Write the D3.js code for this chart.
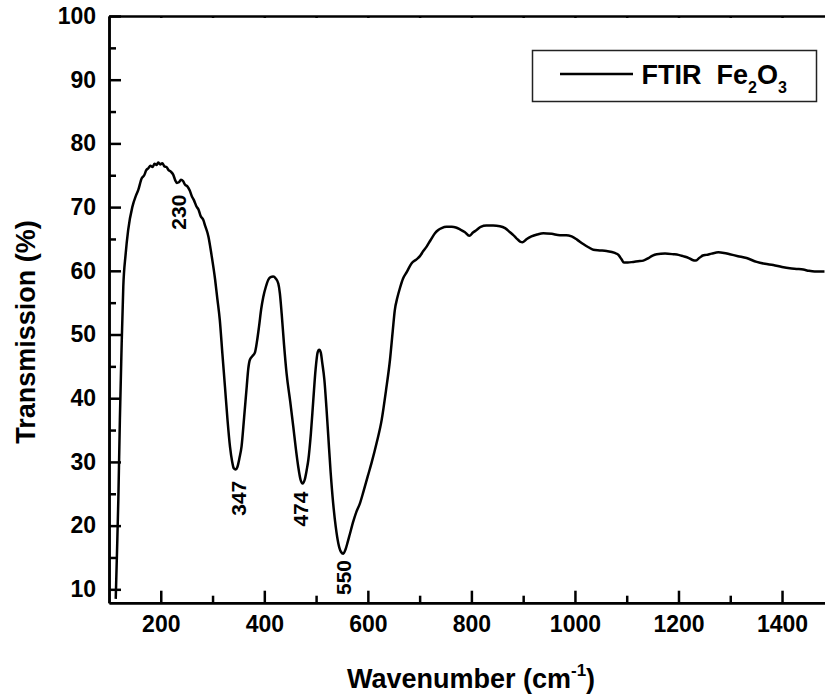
<!DOCTYPE html>
<html>
<head>
<meta charset="utf-8">
<title>FTIR Fe2O3</title>
<script src="https://cdn.jsdelivr.net/npm/d3@7"></script>
<style>
  html, body { margin: 0; padding: 0; background: #fff; }
  #chart { width: 825px; height: 696px; }
  text { font-family: Arial, "Liberation Sans", sans-serif; font-weight: bold; fill: #000; }
</style>
</head>
<body>
<div id="chart"></div>
<script>
// FTIR spectrum of Fe2O3
const wavenumber = [
  113, 115.5, 118, 121, 124, 127.6, 132, 137, 145, 152, 156.6, 163, 168, 172, 176, 180, 184, 188, 192, 195,
  199, 203, 207, 211, 215, 219, 224, 228, 231, 235, 239, 243, 247, 251, 256, 260, 264, 269, 273, 277,
  282, 286, 292, 298, 305, 309, 314, 319, 324, 329, 333.7, 338, 341, 344.6, 348, 352, 356, 361, 366, 369,
  372, 377, 382, 386, 389.7, 394, 398, 403, 407.7, 412, 417, 422, 427, 430, 433.5, 438, 443, 450, 456, 461,
  465.6, 470, 474, 478, 482, 485, 490, 494.6, 499, 503, 506, 509, 512, 516, 520, 523.6, 528, 533, 538, 543,
  548, 552.5, 557, 561, 565, 572, 578, 584.7, 592, 600, 607, 617, 626.7, 635, 642.7, 648, 652, 657, 662, 668,
  675, 684.6, 694, 700.6, 707, 713.5, 721, 729.6, 736, 742.5, 752, 762, 770, 778, 787, 796, 803, 810, 818, 829,
  842, 855, 865, 874, 881, 887, 894, 899, 907, 916, 927, 939, 955, 971, 983, 993.6, 1004, 1016, 1026, 1035.5,
  1048, 1061, 1077, 1084, 1090, 1094.6, 1102, 1112.6, 1122, 1132, 1142, 1150, 1158, 1174, 1190, 1200, 1209, 1220, 1227, 1233,
  1240, 1247, 1254, 1264, 1277, 1288, 1299, 1315, 1331.5, 1351, 1367, 1383, 1400, 1415, 1428, 1441, 1452, 1463, 1482
];
const transmission = [
  8.5, 16, 24, 36.6, 47, 57.5, 62.5, 66.4, 70, 71.8, 72.7, 74.5, 75, 75.8, 76.1, 76.5, 76.3, 76.8, 76.6, 77,
  76.7, 76.9, 76.4, 76.3, 75.8, 75.6, 75.1, 74.2, 73.8, 73.9, 74.3, 74.1, 73.5, 73.3, 72.6, 71.7, 71.1, 70.1, 69.6, 68.6,
  68, 67, 65.4, 62.5, 58.6, 55.8, 52.3, 47, 41.8, 36.5, 32.4, 30, 29, 28.8, 29.2, 30.6, 32.4, 37, 41.8, 44.6,
  46, 46.6, 47.2, 49, 51.2, 54, 55.9, 57.5, 58.6, 59, 59.1, 58.8, 58, 56.5, 53.3, 48.5, 43.9, 39.5, 35.5, 32,
  29.2, 27.2, 26.6, 27.2, 28.8, 30.3, 34.5, 39.7, 44.5, 47.2, 47.6, 47.2, 45.5, 42.9, 38.5, 34, 28.5, 23.5, 19.8, 17.2,
  15.9, 15.6, 16.3, 17.4, 18.6, 20.7, 22.2, 23.5, 25.5, 27.8, 29.8, 33, 36.6, 41.2, 46, 50.5, 53.8, 55.8, 57.3, 58.8,
  59.8, 61.2, 61.8, 62.3, 63.1, 63.8, 64.8, 65.9, 66.4, 66.7, 66.9, 66.9, 66.8, 66.5, 66.1, 65.5, 66, 66.4, 66.9, 67.1,
  67.1, 67, 66.7, 66.1, 65.6, 65.1, 64.6, 64.5, 65, 65.4, 65.7, 65.9, 65.8, 65.6, 65.6, 65.4, 64.9, 64.2, 63.7, 63.3,
  63.2, 63.1, 62.8, 62.5, 61.8, 61.3, 61.3, 61.4, 61.5, 61.6, 62, 62.4, 62.6, 62.7, 62.6, 62.5, 62.3, 62, 61.7, 61.6,
  62, 62.4, 62.5, 62.7, 62.9, 62.8, 62.6, 62.3, 62, 61.4, 61.1, 60.9, 60.6, 60.4, 60.3, 60.2, 60, 59.9, 59.9
];

// peak annotations (text, position in data units)
const peakLabels = ["230", "347", "474", "550"];
const peakLabelX = [235, 350, 470, 553];
const peakLabelY = [69.2, 24.3, 22.6, 11.85];

// axis ticks
const xMajorTicks = [200, 400, 600, 800, 1000, 1200, 1400];
const xMinorTicks = [300, 500, 700, 900, 1100, 1300];
const yMajorTicks = [10, 20, 30, 40, 50, 60, 70, 80, 90, 100];
const yMinorTicks = [15, 25, 35, 45, 55, 65, 75, 85, 95];

document.addEventListener('DOMContentLoaded', function() {
  const width = 825;
  const height = 696;
  const plot = { left: 109, right: 825, top: 16, bottom: 602.7 };

  const svg = d3.select('#chart')
    .append('svg')
    .attr('width', width)
    .attr('height', height);

  const x = d3.scaleLinear().domain([100, 1483]).range([plot.left, plot.right]);
  const y = d3.scaleLinear().domain([7.9, 100]).range([plot.bottom, plot.top]);

  // clip the spectrum to the frame
  svg.append('clipPath').attr('id', 'plot-clip')
    .append('rect')
    .attr('x', plot.left).attr('y', plot.top)
    .attr('width', plot.right - plot.left).attr('height', plot.bottom - plot.top);

  const points = wavenumber.map((w, i) => [w, transmission[i]]);
  const line = d3.line()
    .x(d => x(d[0]))
    .y(d => y(d[1]))
    .curve(d3.curveMonotoneX);

  svg.append('path')
    .datum(points)
    .attr('clip-path', 'url(#plot-clip)')
    .attr('d', line)
    .attr('fill', 'none')
    .attr('stroke', '#000')
    .attr('stroke-width', 2.5)
    .attr('stroke-linejoin', 'round');

  // bottom axis, ticks pointing inwards
  const xAxis = svg.append('g')
    .attr('transform', `translate(0,${plot.bottom})`)
    .call(d3.axisBottom(x).tickValues(xMajorTicks).tickSize(-12).tickSizeOuter(0).tickPadding(12.5).tickFormat(d3.format('d')));
  svg.append('g')
    .attr('transform', `translate(0,${plot.bottom})`)
    .call(d3.axisBottom(x).tickValues(xMinorTicks).tickSize(-7).tickSizeOuter(0).tickFormat(''));

  // left axis
  const yAxis = svg.append('g')
    .attr('transform', `translate(${plot.left},0)`)
    .call(d3.axisLeft(y).tickValues(yMajorTicks).tickSize(-12).tickSizeOuter(0).tickPadding(13));
  svg.append('g')
    .attr('transform', `translate(${plot.left},0)`)
    .call(d3.axisLeft(y).tickValues(yMinorTicks).tickSize(-7).tickSizeOuter(0).tickFormat(''));

  // top frame line with tiny ticks
  svg.append('g')
    .attr('transform', `translate(0,${plot.top})`)
    .call(d3.axisTop(x).tickValues(xMajorTicks.concat(xMinorTicks)).tickSize(-2).tickSizeOuter(0).tickFormat(''));

  svg.selectAll('.domain').attr('stroke', '#000').attr('stroke-width', 2.5);
  svg.selectAll('.tick line').attr('stroke', '#000').attr('stroke-width', 2.5);
  svg.selectAll('.tick text').attr('font-size', 23).attr('fill', '#000')
    .attr('font-family', 'Arial, "Liberation Sans", sans-serif').attr('font-weight', 'bold');

  // peak labels, rotated
  peakLabels.forEach((label, i) => {
    svg.append('text')
      .attr('transform', `translate(${x(peakLabelX[i])},${y(peakLabelY[i])}) rotate(-90)`)
      .attr('text-anchor', 'middle')
      .attr('dominant-baseline', 'central')
      .attr('font-size', 21)
      .text(label);
  });

  // axis titles
  svg.append('text')
    .attr('transform', 'translate(35,332) rotate(-90)')
    .attr('text-anchor', 'middle')
    .attr('font-size', 27)
    .text('Transmission (%)');

  const xTitle = svg.append('text')
    .attr('x', 471)
    .attr('y', 688)
    .attr('text-anchor', 'middle')
    .attr('font-size', 27);
  xTitle.append('tspan').text('Wavenumber (cm');
  xTitle.append('tspan').attr('font-size', 17).attr('dy', -12).text('-1');
  xTitle.append('tspan').attr('dy', 12).text(')');

  // legend
  const legend = svg.append('g');
  legend.append('rect')
    .attr('x', 532.5).attr('y', 50.5)
    .attr('width', 284).attr('height', 51)
    .attr('fill', '#fff')
    .attr('stroke', '#222')
    .attr('stroke-width', 1.5);
  legend.append('line')
    .attr('x1', 560).attr('x2', 633)
    .attr('y1', 74).attr('y2', 74)
    .attr('stroke', '#000')
    .attr('stroke-width', 2.5);
  const legendText = legend.append('text')
    .attr('x', 641.5)
    .attr('y', 83.5)
    .attr('font-size', 27)
    .style('white-space', 'pre');
  legendText.append('tspan').text('FTIR  Fe');
  legendText.append('tspan').attr('font-size', 16).attr('dy', 9).text('2');
  legendText.append('tspan').attr('dy', -9).text('O');
  legendText.append('tspan').attr('font-size', 16).attr('dy', 9).text('3');

  console.log('FTIR chart drawn');
});
</script>
</body>
</html>
